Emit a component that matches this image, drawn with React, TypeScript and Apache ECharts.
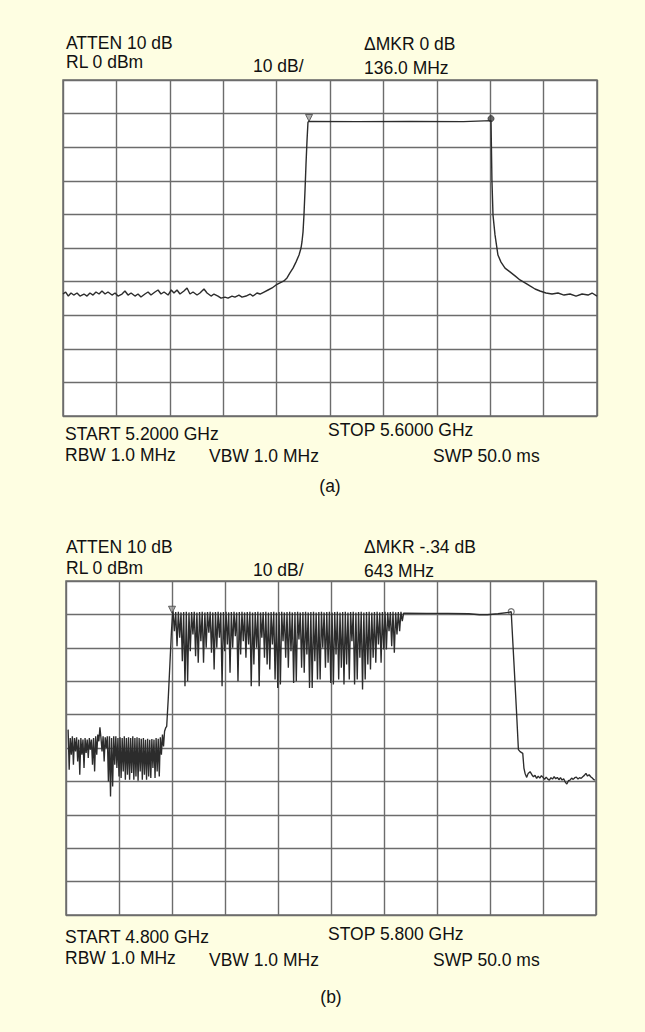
import React, { useEffect, useRef } from "react";
import * as echarts from "echarts";

// ---------- Data (frequency in MHz, level in dB) ----------
// Plot (a): START 5.2000 GHz, STOP 5.6000 GHz
const traceA: [number, number][] = [
  [5200, -63.7], [5202, -63.1], [5204, -64.3], [5206, -63.4], [5208, -64.0], [5210.5, -63.4],
  [5212.7, -64.3], [5215.7, -63.7], [5218, -64.3], [5220.2, -63.4], [5222.5, -64.0], [5224.7, -63.1],
  [5227, -63.7], [5229.2, -62.8], [5231.5, -63.7], [5233.7, -63.1], [5236.7, -64.0], [5239, -63.4],
  [5241.2, -64.3], [5244.2, -63.7], [5246.4, -62.8], [5248.7, -64.0], [5251, -63.4], [5253.9, -64.3],
  [5256.2, -63.7], [5258.4, -64.6], [5261.4, -63.7], [5263.7, -63.1], [5265.9, -64.0], [5268.9, -63.1],
  [5271.2, -62.5], [5273.4, -63.7], [5275.7, -63.1], [5278.7, -64.0], [5281.1, -62.5], [5283.1, -63.4],
  [5285.4, -62.5], [5287.6, -63.7], [5290.6, -62.8], [5292.9, -61.9], [5295.1, -63.7], [5297.4, -63.1],
  [5300.4, -64.0], [5302.6, -63.4], [5305.6, -62.2], [5307.9, -63.4], [5310.9, -64.3], [5313.1, -63.7],
  [5316.1, -64.3], [5318.4, -64.9], [5321.3, -64.6], [5323.6, -64.9], [5326.6, -64.3], [5328.8, -64.6],
  [5331.8, -64.0], [5334.1, -64.6], [5337.1, -64.3], [5340.1, -63.7], [5342.3, -64.3], [5345.3, -63.4],
  [5347.6, -63.7], [5350.6, -63.1], [5353.6, -62.5], [5356.6, -61.9], [5359.6, -61.0], [5362.5, -60.4],
  [5365.5, -59.8], [5367.8, -58.9], [5370, -57.4], [5372.3, -56.0], [5374.5, -54.2], [5376.8, -52.1],
  [5378.3, -50.0], [5379, -48.2], [5379.8, -45.2], [5380.5, -40.2], [5381.3, -32.7], [5382, -25.3],
  [5382.8, -17.9], [5383.5, -12.6], [5384.3, -12.3], [5420, -12.4], [5460, -12.3], [5500, -12.4],
  [5520.6, -12.1], [5521.3, -29.8], [5522.1, -40.2], [5523.6, -46.1], [5525.8, -52.1], [5528.1, -54.2],
  [5531.1, -56.0], [5534.8, -57.1], [5538.6, -58.3], [5542.3, -59.5], [5546.1, -60.4], [5549.8, -61.3],
  [5553.6, -62.2], [5557.3, -62.8], [5561.8, -63.4], [5566.3, -63.7], [5570.8, -63.4], [5575.3, -64.0],
  [5579.8, -63.7], [5584.3, -64.3], [5588.8, -63.7], [5593.3, -64.0], [5596.3, -63.4], [5600, -64.3],
];
const markersA: [number, number][] = [[5384.3, -11.3], [5520.6, -11.5]];

// Plot (b): START 4.800 GHz, STOP 5.800 GHz
const traceBLow: [number, number][] = [
  [4804, -44.5], [4806, -56.5], [4808, -47], [4810, -52], [4812, -46.5], [4814, -55], [4816, -47],
  [4818, -51], [4820, -46.8], [4822, -54], [4824, -47.5], [4826, -58], [4828, -47], [4830, -52],
  [4832, -47.5], [4834, -56], [4836, -47], [4838, -51.5], [4840, -47.5], [4842, -53], [4844, -47],
  [4846, -50.5], [4848, -47.5], [4850, -55], [4852, -47], [4854, -57], [4856, -46.5], [4858, -52],
  [4860, -46], [4862, -48], [4864, -43.8], [4866, -47], [4868, -51], [4870, -46.5], [4872, -54],
  [4874, -46.8], [4876, -50], [4878, -46.5], [4880, -60], [4882, -46.5], [4884, -64.5], [4886, -47],
  [4888, -61.5], [4890, -46.5], [4892, -55], [4894, -46.5], [4896, -56], [4898, -47], [4900, -58.5],
  [4902, -46.8], [4904, -59], [4906, -47], [4908, -57], [4910, -46.5], [4912, -59.5], [4914, -47],
  [4916, -58], [4918, -46.8], [4920, -59.5], [4922, -47], [4924, -57.5], [4926, -46.5], [4928, -59.5],
  [4930, -47], [4932, -58.5], [4934, -46.8], [4936, -59.8], [4938, -47], [4940, -57], [4942, -47.2],
  [4944, -59.5], [4946, -47], [4948, -58], [4950, -47.5], [4952, -59.5], [4954, -47.2], [4956, -58.5],
  [4958, -47.5], [4960, -59], [4962, -47.3], [4964, -56], [4966, -47.5], [4968, -59], [4970, -47],
  [4972, -57], [4974, -47.2], [4976, -58.5], [4978, -46.8], [4980, -52], [4982, -46], [4984, -49.5],
  [4986, -45], [4988, -44], [4990, -43.5], [4993, -35], [4996, -25], [4999, -15], [5001, -10], [5002, -9.1],
];
const traceBBand: [number, number][] = [
  [5004.5, -15], [5007, -9.3], [5009.5, -19.5], [5012, -9.2], [5014.5, -17], [5017, -9.4],
  [5019.5, -24], [5022, -9.3], [5024.5, -31.5], [5027, -9.2], [5029.5, -30], [5032, -9.4],
  [5034.5, -21], [5037, -9.3], [5039.5, -16], [5042, -9.2], [5044.5, -22.5], [5047, -9.4],
  [5049.5, -24.5], [5052, -9.3], [5054.5, -18], [5057, -9.2], [5059.5, -24.5], [5062, -9.4],
  [5064.5, -20], [5067, -9.3], [5069.5, -15.5], [5072, -9.2], [5074.5, -21.5], [5077, -9.4],
  [5079.5, -26.5], [5082, -9.3], [5084.5, -20], [5087, -9.2], [5089.5, -17], [5092, -9.4],
  [5094.5, -31.5], [5097, -9.3], [5099.5, -21], [5102, -9.2], [5104.5, -19], [5107, -9.4],
  [5109.5, -27.5], [5112, -9.3], [5114.5, -20], [5117, -9.2], [5119.5, -16.5], [5122, -9.4],
  [5124.5, -30], [5127, -9.3], [5129.5, -22], [5132, -9.2], [5134.5, -18], [5137, -9.4],
  [5139.5, -23], [5142, -9.3], [5144.5, -19], [5147, -9.2], [5149.5, -31.5], [5152, -9.4],
  [5154.5, -25], [5157, -9.3], [5159.5, -20], [5162, -9.2], [5164.5, -31.5], [5167, -9.4],
  [5169.5, -17], [5172, -9.3], [5174.5, -23], [5177, -9.2], [5179.5, -25], [5182, -9.4],
  [5184.5, -26.5], [5187, -9.3], [5189.5, -19], [5192, -9.2], [5194.5, -29.5], [5197, -9.4],
  [5199.5, -32], [5202, -9.3], [5204.5, -31], [5207, -9.2], [5209.5, -18], [5212, -9.4],
  [5214.5, -23], [5217, -9.3], [5219.5, -26], [5222, -9.2], [5224.5, -21], [5227, -9.4],
  [5229.5, -30.5], [5232, -9.3], [5234.5, -30], [5237, -9.2], [5239.5, -17.5], [5242, -9.4],
  [5244.5, -26], [5247, -9.3], [5249.5, -27.5], [5252, -9.2], [5254.5, -22], [5257, -9.4],
  [5259.5, -32], [5262, -9.3], [5264.5, -32], [5267, -9.2], [5269.5, -24], [5272, -9.4],
  [5274.5, -29.5], [5277, -9.3], [5279.5, -29.5], [5282, -9.2], [5284.5, -20], [5287, -9.4],
  [5289.5, -26], [5292, -9.3], [5294.5, -24.5], [5297, -9.2], [5299.5, -30.5], [5302, -9.4],
  [5304.5, -31], [5307, -9.3], [5309.5, -22], [5312, -9.2], [5314.5, -29.5], [5317, -9.4],
  [5319.5, -26], [5322, -9.3], [5324.5, -31], [5327, -9.2], [5329.5, -25], [5332, -9.4],
  [5334.5, -29.5], [5337, -9.3], [5339.5, -18], [5342, -9.2], [5344.5, -31], [5347, -9.4],
  [5349.5, -29.5], [5352, -9.3], [5354.5, -23], [5357, -9.2], [5359.5, -32.5], [5362, -9.4],
  [5364.5, -29.5], [5367, -9.3], [5369.5, -25], [5372, -9.2], [5374.5, -26.5], [5377, -9.4],
  [5379.5, -23], [5382, -9.3], [5384.5, -24.5], [5387, -9.2], [5389.5, -19], [5392, -9.4],
  [5394.5, -24.5], [5397, -9.3], [5399.5, -20.5], [5402, -9.2], [5404.5, -20.5], [5407, -9.4],
  [5409.5, -15], [5412, -9.3], [5414.5, -19.5], [5417, -9.2], [5419.5, -21.5], [5422, -9.4],
  [5424.5, -16], [5427, -9.3], [5429.5, -15], [5432, -9.2], [5434.5, -12], [5437, -9.6],
];
const traceBHigh: [number, number][] = [
  [5480, -9.7], [5520, -9.7], [5560, -9.8], [5580, -10.1], [5595, -10.1], [5615, -9.8], [5635, -9.4],
  [5640, -9.2], [5645, -24], [5650, -39], [5653.6, -50.5], [5656.8, -51.1], [5661.8, -51.6],
  [5664, -56], [5666.2, -57.6], [5669.3, -58.8], [5672, -57.6], [5675.6, -57.1], [5679, -58.0],
  [5682, -58.6], [5685, -58.2], [5688, -59.1], [5691, -58.4], [5694, -59.0], [5697, -58.3],
  [5700, -58.8], [5703, -59.4], [5706, -58.7], [5709, -59.3], [5712, -59.6], [5715, -58.9],
  [5718, -59.3], [5721, -58.6], [5724, -59.2], [5727, -58.8], [5730, -59.5], [5733, -58.9],
  [5736, -59.6], [5739, -59.2], [5742, -60.2], [5745, -60.8], [5748, -59.8], [5751, -59.6],
  [5754, -59.0], [5757, -59.4], [5760, -58.9], [5763, -58.7], [5766, -59.3], [5769, -58.9],
  [5772, -59.1], [5775, -58.6], [5778, -58.2], [5781, -57.6], [5784, -58.4], [5787, -58.0],
  [5790, -58.6], [5793, -59.0], [5796, -59.5], [5798, -59.6],
];
const markersB: [number, number][] = [[5000, -8.6], [5640, -9.2]];

// Axis ranges and ticks (10 divisions each way)
const xRangeA = [5200, 5600, 40];
const xRangeB = [4800, 5800, 100];
const yRange = [-100, 0, 10];

// Annotation texts
const headerA = ["ATTEN 10 dB", "RL 0 dBm", "10 dB/", "\u0394MKR 0 dB", "136.0 MHz"];
const headerB = ["ATTEN 10 dB", "RL 0 dBm", "10 dB/", "\u0394MKR -.34 dB", "643 MHz"];
const footerA = ["START 5.2000 GHz", "STOP 5.6000 GHz", "RBW 1.0 MHz", "VBW 1.0 MHz", "SWP 50.0 ms", "(a)"];
const footerB = ["START 4.800 GHz", "STOP 5.800 GHz", "RBW 1.0 MHz", "VBW 1.0 MHz", "SWP 50.0 ms", "(b)"];

const FONT = '"Liberation Sans", Arial, Helvetica, sans-serif';
const GRID_COLOR = "#6c6c6c";
const TRACE_COLOR = "#2c2c2c";

function txt(s: string, x: number, y: number, align: string = "left") {
  return {
    type: "text",
    x,
    y,
    silent: true,
    style: {
      text: s,
      fill: "#111111",
      font: `17.5px ${FONT}`,
      textAlign: align,
      textVerticalAlign: "middle",
      verticalAlign: "middle",
    },
  };
}

function makeAxes(gridIndex: number, xr: number[]) {
  const common = {
    gridIndex,
    type: "value",
    axisLine: { show: false },
    axisTick: { show: false },
    axisLabel: { show: false },
    splitLine: { show: true, lineStyle: { color: GRID_COLOR, width: 1.4 } },
  };
  return {
    x: { ...common, min: xr[0], max: xr[1], interval: xr[2] },
    y: { ...common, min: yRange[0], max: yRange[1], interval: yRange[2] },
  };
}

export default function App() {
  const ref = useRef<HTMLDivElement>(null);
  useEffect(() => {
    if (!ref.current) return;
    const chart = echarts.init(ref.current, undefined, { renderer: "svg" });
    const a = makeAxes(0, xRangeA);
    const b = makeAxes(1, xRangeB);
    const traceB = [...traceBLow, ...traceBBand, ...traceBHigh];
    chart.setOption({
      animation: false,
      backgroundColor: "#FEFEE2",
      grid: [
        { left: 63, top: 80, width: 534, height: 336, show: true, backgroundColor: "#ffffff", borderColor: GRID_COLOR, borderWidth: 1.5 },
        { left: 66, top: 581, width: 530, height: 334, show: true, backgroundColor: "#ffffff", borderColor: GRID_COLOR, borderWidth: 1.5 },
      ],
      xAxis: [a.x, b.x],
      yAxis: [a.y, b.y],
      series: [
        {
          type: "line", xAxisIndex: 0, yAxisIndex: 0, data: traceA, showSymbol: false, silent: true,
          lineStyle: { color: TRACE_COLOR, width: 1.4 },
        },
        {
          type: "scatter", xAxisIndex: 0, yAxisIndex: 0, silent: true,
          data: [
            { value: markersA[0], symbol: "triangle", symbolRotate: 180, symbolSize: 7, itemStyle: { color: "#9a9a9a", borderColor: "#444", borderWidth: 1 } },
            { value: markersA[1], symbol: "circle", symbolSize: 6, itemStyle: { color: "#444", borderColor: "#333", borderWidth: 1 } },
          ],
        },
        {
          type: "line", xAxisIndex: 1, yAxisIndex: 1, data: traceB, showSymbol: false, silent: true,
          lineStyle: { color: TRACE_COLOR, width: 1.35 },
        },
        {
          type: "scatter", xAxisIndex: 1, yAxisIndex: 1, silent: true,
          data: [
            { value: markersB[0], symbol: "triangle", symbolRotate: 180, symbolSize: 7, itemStyle: { color: "#9a9a9a", borderColor: "#444", borderWidth: 1 } },
            { value: markersB[1], symbol: "circle", symbolSize: 6, itemStyle: { color: "#ffffff", borderColor: "#555", borderWidth: 1.2 } },
          ],
        },
      ],
      graphic: [
        txt(headerA[0], 66, 42.5),
        txt(headerA[1], 66, 62),
        txt(headerA[2], 253, 66),
        txt(headerA[3], 364, 43.5),
        txt(headerA[4], 364, 67.5),
        txt(footerA[0], 65, 433.5),
        txt(footerA[1], 328, 429.5),
        txt(footerA[2], 65, 454.5),
        txt(footerA[3], 209, 456),
        txt(footerA[4], 433, 456),
        txt(footerA[5], 330, 486, "center"),
        txt(headerB[0], 66, 546.5),
        txt(headerB[1], 66, 567.5),
        txt(headerB[2], 253, 569.5),
        txt(headerB[3], 364, 546.5),
        txt(headerB[4], 364, 570.5),
        txt(footerB[0], 65, 936.5),
        txt(footerB[1], 328, 933.5),
        txt(footerB[2], 65, 957.5),
        txt(footerB[3], 209, 959.5),
        txt(footerB[4], 433, 959.5),
        txt(footerB[5], 331, 996.5, "center"),
      ],
    });
    return () => chart.dispose();
  }, []);
  return (
    <div
      ref={ref}
      style={{ position: "fixed", left: 0, top: 0, width: 645, height: 1032, background: "#FEFEE2" }}
    />
  );
}
